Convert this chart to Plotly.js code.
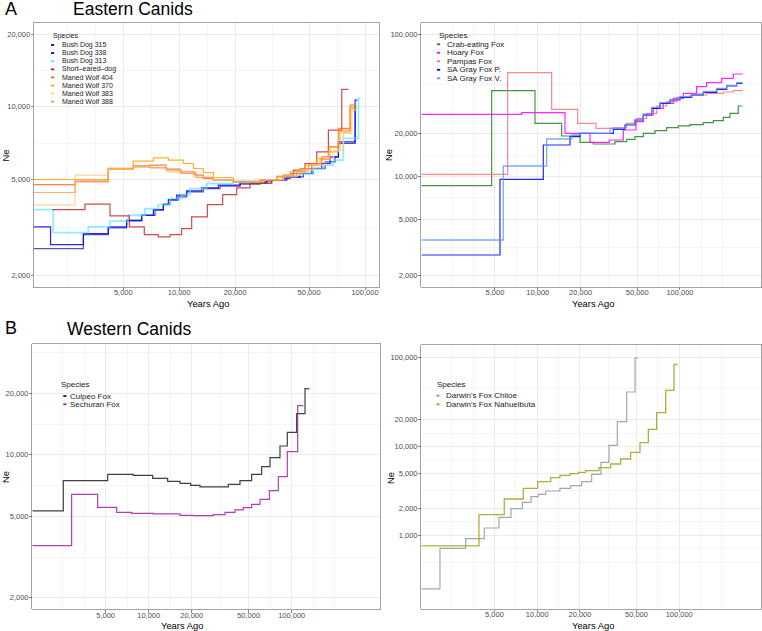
<!DOCTYPE html>
<html>
<head>
<meta charset="utf-8">
<script src="https://cdn.plot.ly/plotly-3.0.1.min.js"></script>
<style>html,body{margin:0;padding:0;background:#fff;}</style>
</head>
<body>
<div id="chart" style="width:762px;height:631px;"></div>
<script>
// ---------------- DATA (years ago, effective population size Ne) ----------------
// Panel A (left): Eastern Canids
const bushDog315Years = [1650, 3050, 4151, 5210, 6280, 7405, 8211, 8920, 9890, 10970, 13490, 16590, 21250, 27240, 31480, 36380, 39530, 46620, 52720, 60950, 69020, 71940, 88480, 89600];
const bushDog315Ne    = [2582, 2951, 3146, 3384, 3550, 3725, 3932, 4099, 4231, 4438, 4582, 4688, 4777, 4884, 4963, 5043, 5124, 5291, 5550, 5915, 6204, 7048, 10010, 10010];
const bushDog338Years = [1650, 2030, 3050, 4151, 5210, 6280, 7260, 8211, 8740, 9690, 10970, 13210, 16240, 21250, 29560, 37910, 44760, 51680, 58520, 64880, 71940, 88480, 91050];
const bushDog338Ne    = [3177, 2683, 2980, 3177, 3363, 3550, 3749, 3945, 4125, 4299, 4481, 4611, 4731, 4839, 4963, 5093, 5291, 5550, 5821, 6204, 7161, 10670, 10670];
const bushDog313Years = [1650, 2100, 3240, 4240, 5320, 6541, 7719, 8920, 10300, 11430, 14060, 19560, 28370, 36380, 42920, 52720, 59740, 67570, 76480, 92200, 94920];
const bushDog313Ne    = [3749, 3009, 3177, 3353, 3550, 3784, 3932, 4164, 4326, 4582, 4807, 4916, 4963, 5124, 5291, 5550, 5730, 6010, 7393, 10840, 10840];
const shortEaredYears = [2082, 3108, 4240, 5390, 6487, 7719, 8920, 10300, 11670, 14170, 17140, 20400, 24050, 31480, 36380, 41180, 47560, 54970, 63530, 74960, 81440];
const shortEaredNe    = [3749, 3945, 3528, 3177, 2951, 2886, 2951, 3126, 3494, 3932, 4326, 4611, 4807, 4963, 5206, 5462, 5821, 6509, 8010, 11820, 11820];
const manedWolf404Years = [1650, 2750, 4151, 5660, 6961, 8486, 10090, 12160, 13490, 15280, 19560, 27240, 33480, 39530, 44760, 51680, 58520, 63530, 71940, 83180, 89600];
const manedWolf404Ne    = [4761, 4916, 5550, 5693, 5730, 5515, 5376, 5206, 5043, 4963, 4884, 4963, 5124, 5291, 5550, 5821, 6204, 6827, 8140, 10170, 10170];
const manedWolf370Years = [1650, 2750, 4151, 5660, 7260, 8740, 10520, 11910, 13490, 15280, 19560, 27240, 33480, 39530, 47560, 54970, 63530, 71940, 83180, 90300];
const manedWolf370Ne    = [4995, 4995, 5550, 5953, 6146, 6010, 5821, 5550, 5342, 5092, 4884, 4995, 5157, 5376, 5730, 6106, 6509, 7880, 9851, 9851];
const manedWolf383Years = [1650, 2750, 4151, 5660, 6961, 8560, 10090, 11910, 15280, 19560, 28370, 36380, 44760, 52720, 60950, 67570, 76480, 84920, 90300];
const manedWolf383Ne    = [3907, 5206, 5585, 5639, 5550, 5376, 5291, 5124, 4963, 4884, 4995, 5206, 5462, 5730, 6106, 6614, 7756, 9700, 9700];
const manedWolf388Years = [1650, 2750, 4151, 5660, 6961, 8560, 10300, 12420, 15280, 19560, 28370, 36380, 42920, 49600, 57280, 64880, 73390, 83180, 89600];
const manedWolf388Ne    = [4411, 4884, 5497, 5639, 5603, 5462, 5291, 5092, 4963, 4884, 4963, 5157, 5427, 5730, 6048, 6827, 8010, 10010, 10010];

// Panel A (right)
const crabEatingYears = [1525, 4738, 9556, 14720, 19810, 24580, 34900, 42160, 48250, 55230, 66700, 80580, 97300, 117500, 145900, 171500, 201600, 224600, 257000, 275800];
const crabEatingNe    = [8600, 40250, 23680, 19270, 17390, 16920, 17570, 18250, 19060, 20120, 21010, 22070, 22680, 23170, 23930, 24730, 26100, 27850, 31380, 31380];
const hoaryYears = [1525, 7701, 15540, 23280, 31840, 39950, 49030, 55230, 64930, 76350, 89790, 105500, 130900, 154000, 196300, 237100, 275800];
const hoaryNe    = [27400, 28150, 20120, 17390, 18060, 21240, 24320, 27110, 30210, 32770, 35530, 38550, 42960, 45850, 49180, 52770, 52770];
const pampasYears = [1525, 6139, 12520, 19070, 25670, 33970, 42160, 49590, 58290, 68520, 80580, 94710, 117500, 154000, 201600, 237100, 275800];
const pampasNe    = [10340, 53920, 29730, 23680, 21830, 22070, 23680, 25680, 27850, 31380, 33670, 36130, 37520, 38550, 39390, 40250, 40250];
const saGrayPYears = [1525, 5424, 10940, 16840, 19810, 33970, 41040, 48250, 55230, 63220, 72330, 85050, 99980, 120800, 145900, 181100, 212900, 250300, 275800];
const saGrayPNe    = [2787, 9528, 16650, 19060, 20120, 21470, 23040, 24990, 27110, 30210, 32770, 34590, 36130, 37520, 39170, 41140, 43420, 45360, 45360];
const saGrayVYears = [1525, 5723, 11550, 17310, 19810, 32190, 41040, 48250, 55230, 63220, 72330, 85050, 99980, 120800, 145900, 181100, 212900, 250300, 275800];
const saGrayVNe    = [3556, 11840, 18350, 19590, 20120, 21830, 23290, 25270, 27550, 30710, 33130, 34960, 36510, 38140, 39820, 41820, 43900, 45850, 45850];

// Panel B (left): Western Canids
const culpeoYears = [1536, 2529, 5164, 7808, 10660, 13570, 16550, 19650, 22840, 36050, 43490, 52480, 61650, 70510, 82810, 93190, 108300, 123900, 132800];
const culpeoNe    = [5317, 7481, 8035, 7944, 7680, 7425, 7260, 7098, 6966, 7178, 7481, 8035, 8757, 9692, 11050, 12890, 15910, 21080, 21080];
const sechuranYears = [1536, 2892, 4397, 5970, 7601, 10770, 16550, 20510, 28310, 34160, 40120, 45880, 52480, 60020, 69760, 80630, 93190, 110100, 120600];
const sechuranNe    = [3598, 6415, 5541, 5238, 5179, 5140, 5063, 5045, 5102, 5238, 5377, 5520, 5731, 6064, 6686, 7825, 10370, 17400, 17400];

// Panel B (right)
const chiloeYears = [1527, 2067, 3133, 4241, 5379, 6535, 7852, 9036, 10180, 11470, 14460, 17190, 20560, 24170, 28120, 32020, 36650, 42640, 48810, 51520];
const chiloeNe    = [249, 714, 917, 1209, 1595, 1996, 2352, 2724, 2894, 3155, 3381, 3623, 4019, 4861, 6634, 10310, 19030, 41070, 99130, 99130];
const nahuelbutaYears = [1527, 3889, 5864, 7980, 10070, 12430, 14460, 17010, 19470, 21930, 27220, 32890, 38680, 45500, 52930, 60590, 69360, 80270, 91880, 97500];
const nahuelbutaNe    = [759, 1709, 2565, 3381, 4019, 4459, 4736, 4945, 5121, 5345, 5776, 6353, 7233, 8597, 11050, 15610, 24040, 42890, 84140, 84140];

// Tick labels / grid breaks
const xTicks = [5000, 10000, 20000, 50000, 100000];
const xMinor = [2500, 3536, 7071, 14142, 31623, 70711, 141421, 200000];
const yTicksA1 = [2000, 5000, 10000, 20000];
const yMinorA1 = [3162, 7071, 14142];
const yTicksA2 = [2000, 5000, 10000, 20000, 100000];
const yMinorA2 = [3162, 7071, 14142, 44721];
const yTicksB1 = [2000, 5000, 10000, 20000];
const yMinorB1 = [3162, 7071, 14142, 31623];
const yTicksB2 = [1000, 2000, 5000, 10000, 20000, 100000];
const yMinorB2 = [500, 707, 1414, 3162, 7071, 14142, 44721];

// ---------------- STYLE / LAYOUT ----------------
const W = 762, H = 631;
const FONT = 'Liberation Sans, Arial, Helvetica, sans-serif';
const fx = p => p / W;
const fy = p => 1 - p / H;

const panels = [
  { id: '', box: [34, 379, 23.3, 287], xr: [3.2184, 5.0753], yr: [3.2525, 4.3467], yt: yTicksA1, ym: yMinorA1,
    series: [
      ['Bush Dog 315', bushDog315Years, bushDog315Ne, 'rgba(20,20,140,0.72)', 1.3],
      ['Bush Dog 338', bushDog338Years, bushDog338Ne, 'rgba(0,0,255,0.85)', 1.2],
      ['Bush Dog 313', bushDog313Years, bushDog313Ne, 'rgba(90,225,255,0.65)', 1.8],
      ['Short\u2013eared\u2013dog', shortEaredYears, shortEaredNe, 'rgba(190,30,30,0.8)', 1.2],
      ['Maned Wolf 404', manedWolf404Years, manedWolf404Ne, 'rgba(255,95,25,0.8)', 1.2],
      ['Maned Wolf 370', manedWolf370Years, manedWolf370Ne, 'rgba(255,165,0,0.85)', 1.2],
      ['Maned Wolf 383', manedWolf383Years, manedWolf383Ne, 'rgba(255,200,140,0.85)', 1.2],
      ['Maned Wolf 388', manedWolf388Years, manedWolf388Ne, 'rgba(255,150,70,0.8)', 1.2]
    ],
    legend: { titleX: 50.5, titleY: 36.2, keyX: 51, textX: 60, y0: 45, step: 8.1, size: 7 },
    xTitle: [208, 303.5], yTitle: [5.5, 156] },
  { id: '2', box: [421.3, 761, 23.3, 286.7], xr: [3.181, 5.5696], yr: [3.2216, 5.08], yt: yTicksA2, ym: yMinorA2,
    series: [
      ['Crab-eating Fox', crabEatingYears, crabEatingNe, 'rgba(34,130,34,0.85)', 1.2],
      ['Hoary Fox', hoaryYears, hoaryNe, 'rgba(255,0,255,0.85)', 1.2],
      ['Pampas Fox', pampasYears, pampasNe, 'rgba(240,110,110,0.8)', 1.2],
      ['SA Gray Fox P.', saGrayPYears, saGrayPNe, 'rgba(0,0,255,0.85)', 1.2],
      ['SA Gray Fox V.', saGrayVYears, saGrayVNe, 'rgba(90,150,250,0.8)', 1.3]
    ],
    legend: { titleX: 436.5, titleY: 35.7, keyX: 437, textX: 445, y0: 44.3, step: 8.5, size: 8 },
    xTitle: [593, 303.5], yTitle: [388, 155] },
  { id: '3', box: [32.3, 380, 344.3, 609.3], xr: [3.1862, 5.6174], yr: [3.2448, 4.5406], yt: yTicksB1, ym: yMinorB1,
    series: [
      ['Culpeo Fox', culpeoYears, culpeoNe, 'rgba(30,30,30,0.85)', 1.2],
      ['Sechuran Fox', sechuranYears, sechuranNe, 'rgba(160,30,165,0.85)', 1.2]
    ],
    legend: { titleX: 59, titleY: 384.3, keyX: 63.3, textX: 68.3, y0: 396, step: 8.3, size: 8 },
    xTitle: [182, 625.5], yTitle: [5, 477] },
  { id: '4', box: [421.3, 761, 345, 609], xr: [3.1837, 5.5758], yr: [2.1707, 5.1426], yt: yTicksB2, ym: yMinorB2,
    series: [
      ["Darwin's Fox Chiloe", chiloeYears, chiloeNe, 'rgba(150,150,150,0.85)', 1.2],
      ["Darwin's Fox Nahuelbuta", nahuelbutaYears, nahuelbutaNe, 'rgba(160,160,30,0.85)', 1.3]
    ],
    legend: { titleX: 435, titleY: 384.7, keyX: 436.3, textX: 444, y0: 395.7, step: 8.6, size: 8 },
    xTitle: [593, 625.5], yTitle: [390, 478] }
];

function makeAxis(domain, range, ticks, minor, anchor, isX) {
  return {
    type: 'log', domain: domain, range: range, anchor: anchor,
    tickmode: 'array', tickvals: ticks, ticktext: ticks.map(v => v.toLocaleString('en-US')),
    showgrid: true, gridcolor: '#e6e6e6', gridwidth: 0.8,
    minor: { tickmode: 'array', tickvals: minor, showgrid: true, gridcolor: '#eeeeee', gridwidth: 0.6, ticks: '' },
    ticks: 'outside', ticklen: 2.5, tickwidth: 0.6, tickcolor: '#333333',
    ticklabelstandoff: isX ? -4 : -1,
    tickfont: { family: FONT, size: 7.5, color: '#4d4d4d' },
    showline: true, mirror: true, linecolor: '#8c8c8c', linewidth: 0.8,
    zeroline: false, fixedrange: true
  };
}

const traces = [];
const annotations = [];
const shapes = [];
const layout = {
  width: W, height: H, margin: { l: 0, r: 0, t: 0, b: 0 },
  paper_bgcolor: '#ffffff', plot_bgcolor: '#ffffff',
  showlegend: false, font: { family: FONT, color: '#000' }
};

panels.forEach(p => {
  const [x0, x1, y0, y1] = p.box;
  layout['xaxis' + p.id] = makeAxis([fx(x0), fx(x1)], p.xr, xTicks, xMinor, 'y' + p.id, true);
  layout['yaxis' + p.id] = makeAxis([fy(y1), fy(y0)], p.yr, p.yt, p.ym, 'x' + p.id, false);
  p.series.forEach(s => {
    traces.push({
      type: 'scatter', mode: 'lines', name: s[0], x: s[1], y: s[2],
      xaxis: 'x' + p.id, yaxis: 'y' + p.id,
      line: { shape: 'hv', color: s[3], width: s[4] },
      hoverinfo: 'name+x+y'
    });
  });
  const L = p.legend;
  annotations.push({ xref: 'paper', yref: 'paper', x: fx(L.titleX), y: fy(L.titleY), xanchor: 'left', yanchor: 'middle',
    text: 'Species', showarrow: false, font: { family: FONT, size: L.size, color: '#1a1a1a' } });
  p.series.forEach((s, i) => {
    const yy = L.y0 + i * L.step;
    shapes.push({ type: 'line', xref: 'paper', yref: 'paper', x0: fx(L.keyX), x1: fx(L.keyX + 3.2), y0: fy(yy), y1: fy(yy),
      line: { color: s[3].replace(/[\d.]+\)$/, '1)'), width: 1.8 } });
    annotations.push({ xref: 'paper', yref: 'paper', x: fx(L.textX), y: fy(yy), xanchor: 'left', yanchor: 'middle',
      text: s[0], showarrow: false, font: { family: FONT, size: L.size, color: '#1a1a1a' } });
  });
  annotations.push({ xref: 'paper', yref: 'paper', x: fx(p.xTitle[0]), y: fy(p.xTitle[1]), xanchor: 'center', yanchor: 'middle',
    text: 'Years Ago', showarrow: false, font: { family: FONT, size: 9.4, color: '#000' } });
  annotations.push({ xref: 'paper', yref: 'paper', x: fx(p.yTitle[0]), y: fy(p.yTitle[1]), xanchor: 'center', yanchor: 'middle',
    text: 'Ne', textangle: -90, showarrow: false, font: { family: FONT, size: 9.4, color: '#000' } });
});

// Panel letters and headings
[['A', 3, 9, 18], ['Eastern Canids', 71, 9, 17.5], ['B', 3, 328, 18], ['Western Canids', 65, 328.5, 17.5]].forEach(t => {
  annotations.push({ xref: 'paper', yref: 'paper', x: fx(t[1]), y: fy(t[2]), xanchor: 'left', yanchor: 'middle',
    text: t[0], showarrow: false, font: { family: FONT, size: t[3], color: '#000' } });
});

layout.annotations = annotations;
layout.shapes = shapes;

Plotly.newPlot('chart', traces, layout, { displayModeBar: false, staticPlot: true });
</script>
</body>
</html>
